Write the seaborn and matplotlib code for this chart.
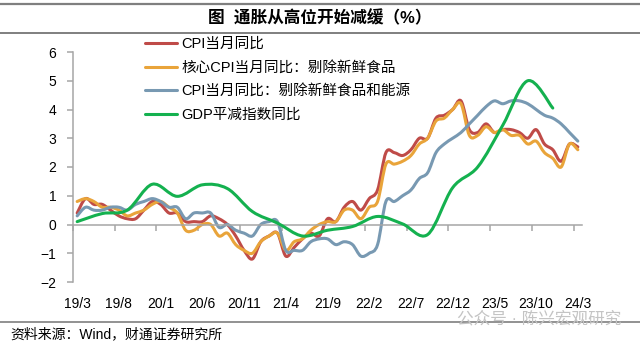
import numpy as np
import pandas as pd
import matplotlib
matplotlib.use("Agg")
import matplotlib.pyplot as plt
import seaborn as sns
from matplotlib.path import Path
from matplotlib.patches import PathPatch
from matplotlib.lines import Line2D

# ---- data -------------------------------------------------------------
months = pd.period_range("2019-03", "2024-03", freq="M")

cpi_yoy = [0.4, 0.9, 0.7, 0.7, 0.5, 0.3, 0.2, 0.2, 0.5, 0.8,
           0.7, 0.4, 0.4, 0.1, 0.1, 0.1, 0.3, 0.2, 0.0, -0.4, -0.9, -1.2,
           -0.6, -0.4, -0.3, -1.1, -0.8, -0.5, -0.3, -0.4, 0.2, 0.1, 0.6, 0.8,
           0.5, 0.9, 1.2, 2.5, 2.5, 2.4, 2.6, 3.0, 3.0, 3.7, 3.8, 4.0,
           4.3, 3.3, 3.2, 3.5, 3.2, 3.3, 3.3, 3.2, 3.0, 3.3, 2.8, 2.6,
           2.2, 2.8, 2.7]

core_yoy = [0.8, 0.9, 0.8, 0.6, 0.6, 0.5, 0.3, 0.4, 0.5, 0.7,
            0.8, 0.6, 0.4, -0.2, -0.2, 0.0, 0.0, -0.4, -0.3, -0.7, -0.9, -1.0,
            -0.6, -0.4, -0.3, -0.9, -0.6, -0.5, -0.2, 0.0, 0.1, 0.1, 0.5, 0.5,
            0.2, 0.6, 0.8, 2.1, 2.1, 2.2, 2.4, 2.8, 3.0, 3.6, 3.7, 4.0,
            4.2, 3.1, 3.1, 3.4, 3.2, 3.3, 3.1, 3.1, 2.8, 2.9, 2.5, 2.3,
            2.0, 2.8, 2.6]

core_core_yoy = [0.3, 0.6, 0.5, 0.5, 0.6, 0.6, 0.5, 0.7, 0.8, 0.9,
                 0.8, 0.6, 0.6, 0.2, 0.4, 0.4, 0.4, -0.1, 0.0, -0.2, -0.3, -0.4,
                 0.0, 0.1, 0.1, -0.9, -0.9, -0.9, -0.6, -0.5, -0.5, -0.7, -0.6, -0.7,
                 -1.1, -1.0, -0.7, 0.8, 0.8, 1.0, 1.2, 1.6, 1.8, 2.5, 2.8, 3.0,
                 3.2, 3.5, 3.8, 4.1, 4.3, 4.2, 4.3, 4.3, 4.2, 4.0, 3.8, 3.7,
                 3.5, 3.2, 2.9]

gdp_quarters = pd.period_range("2019Q1", "2023Q4", freq="Q")
gdp_deflator_yoy = [0.1, 0.38, 0.5, 1.4,
                    0.98, 1.38, 1.25, 0.45,
                    0.05, -0.4, -0.2, -0.07,
                    0.28, 0.02, -0.35, 1.28,
                    2.0, 3.45, 5.0, 4.05]

tick_labels = ["19/3", "19/8", "20/1", "20/6", "20/11", "21/4", "21/9",
               "22/2", "22/7", "22/12", "23/5", "23/10", "24/3"]

series_names = ["CPI当月同比",
                "核心CPI当月同比：剔除新鲜食品",
                "CPI当月同比：剔除新鲜食品和能源",
                "GDP平减指数同比"]
colors = ["#BF4B48", "#E9A43A", "#7899B2", "#14B14F"]

# ---- style ------------------------------------------------------------
sns.set_theme(style="white")
plt.rcParams["font.family"] = ["Liberation Sans", "Noto Sans CJK SC"]
plt.rcParams["text.color"] = "black"
plt.rcParams["xtick.color"] = "black"
plt.rcParams["ytick.color"] = "black"
axis_gray = "#A6A6A6"
LW = 2.2

W, H = 640, 344
fig = plt.figure(figsize=(W / 100, H / 100), dpi=100)
ax = fig.add_axes([73 / W, 1 - 282 / H, (582 - 73) / W, (282 - 52) / H])


def smooth_path(xs, ys):
    """Cubic Bezier path through the points (Catmull-Rom style)."""
    pts = np.column_stack([xs, ys]).astype(float)
    verts, codes = [pts[0]], [Path.MOVETO]
    m = len(pts)
    for i in range(m - 1):
        p0 = pts[i - 1] if i > 0 else pts[i]
        p1, p2 = pts[i], pts[i + 1]
        p3 = pts[i + 2] if i + 2 < m else pts[i + 1]
        verts += [p1 + (p2 - p0) / 6, p2 - (p3 - p1) / 6, p2]
        codes += [Path.CURVE4] * 3
    return Path(verts, codes)


def smooth_curve(ax, xs, ys, color, zorder):
    ax.add_patch(PathPatch(smooth_path(xs, ys), fill=False, edgecolor=color,
                           lw=LW, capstyle="round", joinstyle="round",
                           zorder=zorder))


# monthly series, centred inside each month slot
n = len(months)
df = pd.DataFrame({
    "pos": np.tile(np.arange(n) + 0.5, 3),
    "value": cpi_yoy + core_yoy + core_core_yoy,
    "series": np.repeat(series_names[:3], n),
})
sns.lineplot(data=df, x="pos", y="value", hue="series",
             hue_order=series_names[:3], palette=colors[:3],
             linewidth=LW, legend=False, sort=False, ax=ax)

# redraw each seaborn line as a smoothed curve
for k, line in enumerate(list(ax.get_lines())):
    xs, ys = line.get_data()
    smooth_curve(ax, np.asarray(xs), np.asarray(ys), line.get_color(), 2 + k * 0.1)
    line.remove()

# quarterly deflator placed at each quarter's last month
q_pos = np.array([months.get_loc(q.asfreq("M", "end")) for q in gdp_quarters]) + 0.5
smooth_curve(ax, q_pos, gdp_deflator_yoy, colors[3], 3)

# ---- axes -------------------------------------------------------------
ax.set_xlim(0, n)
ax.set_ylim(-2, 6)
ax.set_xlabel("")
ax.set_ylabel("")
for s in ["top", "right"]:
    ax.spines[s].set_visible(False)
ax.spines["bottom"].set_position(("data", 0))
for s in ["left", "bottom"]:
    ax.spines[s].set_color(axis_gray)
    ax.spines[s].set_linewidth(1.1)

ax.set_xticks(np.arange(0, n + 1, 5))
ax.tick_params(axis="x", bottom=True, direction="out", length=4, width=1.1,
               color=axis_gray, labelbottom=False)
ax.set_yticks(range(-2, 7))
ax.tick_params(axis="y", left=True, direction="out", length=4, width=1.1,
               color=axis_gray, labelsize=10, pad=8)

sec = ax.secondary_xaxis(0)
sec.set_xticks(np.arange(0, n + 1, 5) + 0.5, tick_labels)
sec.tick_params(axis="x", length=0, pad=11, labelsize=10)
sec.spines["bottom"].set_visible(False)

handles = [Line2D([], [], color=c, lw=LW) for c in colors]
fig.legend(handles, series_names, loc="upper left",
           bbox_to_anchor=(145 / W, 1 - 37 / H), frameon=False,
           borderpad=0, borderaxespad=0, fontsize=10.5,
           handlelength=2.2, handletextpad=0.3, labelspacing=0.66)

# ---- page furniture -----------------------------------------------------
rule_color = "#7F7F7F"
for y_px, lw in [(4, 1.6), (33, 1.4), (322, 1.2)]:
    fig.add_artist(Line2D([0.0, 1.0], [1 - y_px / H] * 2,
                          transform=fig.transFigure, color=rule_color, lw=lw))

fig.text(0.5, 1 - 18.5 / H, "图  通胀从高位开始减缓（%）", ha="center", va="center",
         fontsize=12, fontweight="bold")
fig.text(10 / W, 1 - 334 / H, "资料来源：Wind，财通证券研究所", ha="left",
         va="center", fontsize=10)
fig.text(621 / W, 1 - 319 / H, "公众号 · 陈兴宏观研究", ha="right", va="center",
         fontsize=12, color="#C4C4C4")

fig.savefig("out.png", dpi=100, facecolor="white")
